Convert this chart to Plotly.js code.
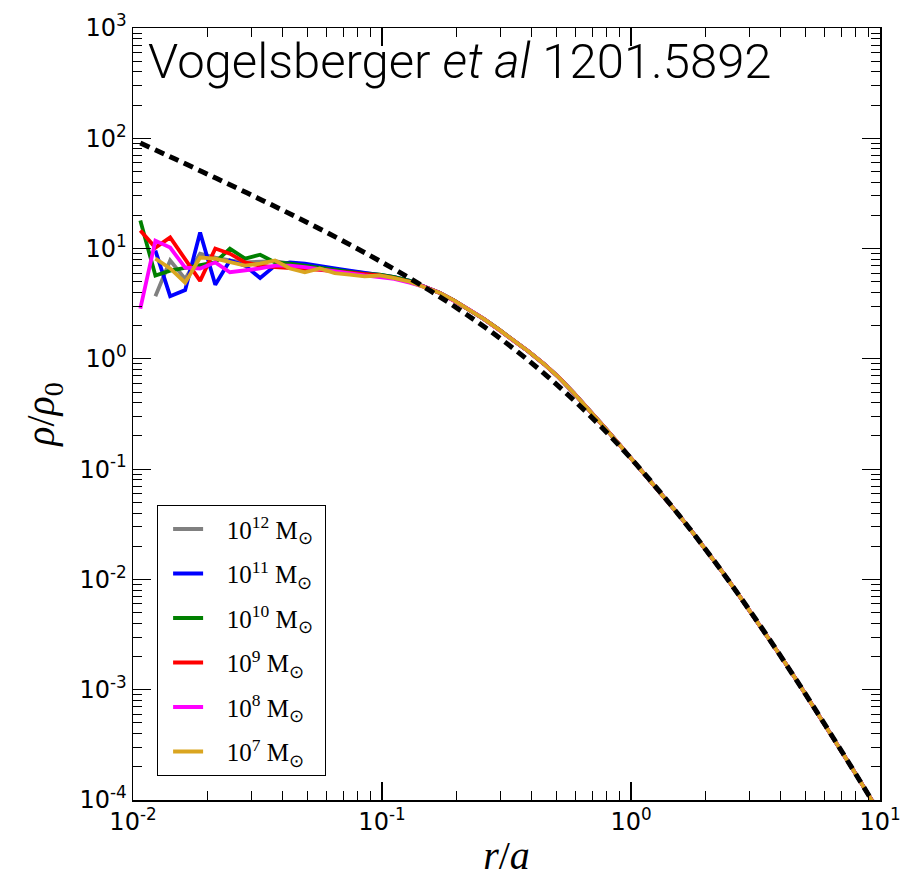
<!DOCTYPE html>
<html>
<head>
<meta charset="utf-8">
<script src="https://cdn.plot.ly/plotly-3.0.1.min.js"></script>
<style>html,body{margin:0;padding:0;background:#fff;}#chart{width:902px;height:878px;}</style>
</head>
<body>
<div id="chart"></div>
<script>
// ---- data ----
// inner radii (r/a), shared by the six simulation curves
var rInner = [0.0107,0.0123,0.0141,0.0162,0.0186,0.0214,0.0245,0.0282,0.0324,0.0372,0.0427,0.0490,0.0562,0.0646,0.0741,0.0851,0.0977,0.112,0.129];
// outer radii, where all curves coincide
var rOuter = [0.148,0.170,0.195,0.224,0.257,0.295,0.339,0.389,0.447,0.513,0.589,0.676,0.776,0.891,1.02,1.17,1.35,1.55,1.78,2.04,2.34,2.69,3.09,3.55,4.07,4.68,5.37,6.17,7.08,8.13,9.33,10.7];
var rhoOuter = [4.5,3.98,3.37,2.79,2.29,1.84,1.47,1.16,0.90,0.68,0.49,0.35,0.245,0.171,0.119,0.0835,0.0571,0.0389,0.0262,0.0175,0.0115,0.0074,0.0047,0.0030,0.00189,0.00117,0.00072,0.00044,0.00027,0.000162,0.0000972,0.000058];

var rho12 = [null,3.7,7.8,5.3,9.0,8.3,7.8,7.5,7.6,7.7,7.3,7.0,6.8,6.5,6.2,6.0,5.8,5.5,5.1];
var rho11 = [null,9.6,3.7,4.2,14.0,4.7,7.8,7.0,5.4,7.0,7.5,7.3,7.0,6.6,6.3,6.0,5.8,5.5,5.1];
var rho10 = [18.0,5.7,6.3,6.7,7.0,7.5,10.0,8.1,8.8,7.5,7.3,7.0,6.7,6.4,6.1,5.9,5.8,5.5,5.1];
var rho9  = [14.6,10.2,12.6,8.1,5.1,10.0,9.0,7.5,7.0,6.8,6.7,6.6,6.4,6.2,6.0,5.8,5.7,5.4,5.0];
var rho8  = [2.85,11.8,10.2,6.7,6.6,7.5,6.1,6.3,6.6,7.0,7.0,6.8,6.5,6.2,5.9,5.7,5.5,5.3,4.9];
var rho7  = [null,8.1,6.6,4.9,8.3,8.1,7.5,7.0,7.3,7.8,6.6,6.1,6.6,6.0,5.8,5.6,5.7,5.4,5.0];

// analytic reference (dashed) profile
var rRef   = [0.0107,0.0147,0.0215,0.0316,0.0464,0.0681,0.1,0.147,0.215,0.316,0.464,0.681,1.0,1.47,2.15,3.16,4.64,6.81,10.0];
var rhoRef = [90.5,65.1,43.6,28.8,18.8,12.05,7.51,4.51,2.59,1.389,0.687,0.309,0.125,0.0451,0.01488,0.0044,0.0012,0.000308,0.0000751];

var seriesNames  = ['10<sup>12</sup> M<sub>⊙</sub>','10<sup>11</sup> M<sub>⊙</sub>','10<sup>10</sup> M<sub>⊙</sub>','10<sup>9</sup> M<sub>⊙</sub>','10<sup>8</sup> M<sub>⊙</sub>','10<sup>7</sup> M<sub>⊙</sub>'];
var seriesColors = ['#808080','#0000ff','#008000','#ff0000','#ff00ff','#daa520'];
var seriesInner  = [rho12, rho11, rho10, rho9, rho8, rho7];

var xTickVals = [0.01,0.1,1,10];
var xTickText = ['10<sup>-2</sup>','10<sup>-1</sup>','10<sup>0</sup>','10<sup>1</sup>'];
var yTickVals = [0.0001,0.001,0.01,0.1,1,10,100,1000];
var yTickText = ['10<sup>-4</sup>','10<sup>-3</sup>','10<sup>-2</sup>','10<sup>-1</sup>','10<sup>0</sup>','10<sup>1</sup>','10<sup>2</sup>','10<sup>3</sup>'];

// ---- build ----
var rAll = rInner.concat(rOuter);
var pad = '\u00a0\u00a0\u00a0';
var traces = [];
for (var i = 0; i < seriesNames.length; i++) {
  traces.push({
    x: rAll, y: seriesInner[i].concat(rhoOuter),
    type: 'scatter', mode: 'lines', name: pad + seriesNames[i] + '\u00a0',
    legendgroup: 'g' + i,
    line: {color: seriesColors[i], width: 3.8},
    connectgaps: false
  });
}
traces.push({
  x: rRef, y: rhoRef, type: 'scatter', mode: 'lines', showlegend: false,
  line: {color: '#000', width: 5, dash: '10px,6px', shape: 'spline'}
});

function minorVals(lo, hi) {
  var v = [];
  for (var e = lo; e < hi; e++) for (var m = 2; m <= 9; m++) v.push(m * Math.pow(10, e));
  return v;
}

var axisCommon = {
  type: 'log', showgrid: false, zeroline: false,
  showline: true, linecolor: '#000', linewidth: 1.5, mirror: 'ticks',
  ticks: 'inside', ticklen: 18, tickwidth: 1.2, tickcolor: '#000',
  tickmode: 'array',
  tickfont: {family: 'DejaVu Sans', size: 24, color: '#000'}
};

var layout = {
  width: 902, height: 878,
  margin: {l: 133, r: 22, t: 28, b: 78},
  paper_bgcolor: '#fff', plot_bgcolor: '#fff',
  xaxis: Object.assign({}, axisCommon, {
    range: [-2, 1], tickvals: xTickVals, ticktext: xTickText,
    minor: {ticks: 'inside', ticklen: 9, tickwidth: 1, tickcolor: '#000', tickmode: 'array', tickvals: minorVals(-2, 1), showgrid: false},
    title: {text: '<i>r</i>/<i>a</i>', font: {family: 'Liberation Serif', size: 40, color: '#000'}, standoff: 8}
  }),
  yaxis: Object.assign({}, axisCommon, {
    range: [-4, 3], tickvals: yTickVals, ticktext: yTickText,
    minor: {ticks: 'inside', ticklen: 9, tickwidth: 1, tickcolor: '#000', tickmode: 'array', tickvals: minorVals(-4, 3), showgrid: false},
    title: {text: '<i>ρ</i>/<i>ρ</i><sub>0</sub>', font: {family: 'Liberation Serif', size: 40, color: '#000'}, standoff: 12}
  }),
  showlegend: true,
  legend: {
    x: 0.032, y: 0.031, xanchor: 'left', yanchor: 'bottom',
    bgcolor: '#fff', bordercolor: '#000', borderwidth: 1.2,
    font: {family: 'Liberation Serif', size: 25, color: '#000'},
    tracegroupgap: 9, traceorder: 'grouped', indentation: 10
  },
  annotations: [{
    xref: 'paper', yref: 'paper', x: 0.018, y: 0.956, xanchor: 'left', yanchor: 'middle',
    text: 'Vogelsberger <i>et al</i> 1201.5892', showarrow: false,
    font: {family: 'Roboto', size: 49, color: '#000', weight: 300}
  }]
};

Plotly.newPlot('chart', traces, layout, {displayModeBar: false, staticPlot: true});
</script>
</body>
</html>
